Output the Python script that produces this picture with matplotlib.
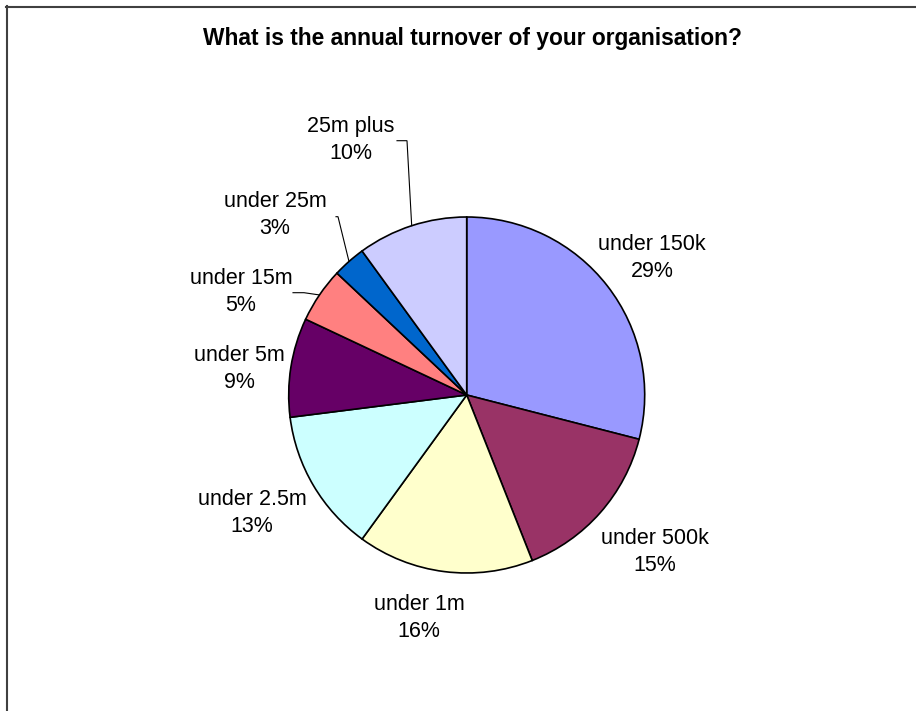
import numpy as np
import matplotlib
matplotlib.use("Agg")
import matplotlib.pyplot as plt
from matplotlib.lines import Line2D

# ---- data ----
categories = ["under 150k", "under 500k", "under 1m", "under 2.5m",
              "under 5m", "under 15m", "under 25m", "25m plus"]
values = [29, 15, 16, 13, 9, 5, 3, 10]
colors = ["#9999FF", "#993366", "#FFFFCC", "#CCFFFF",
          "#660066", "#FF8080", "#0066CC", "#CCCCFF"]
title = "What is the annual turnover of your organisation?"

# ---- layout (pixels) ----
W, H = 916, 711
cx, cy, R = 466.7, 395.0, 178.0
# label block centres in pixel coordinates
label_px = [(652, 258), (655, 552), (419, 618), (252, 513),
            (239, 369), (241, 292), (275, 215), (351, 140)]
# leader lines: (start_x, bend_x, y) in pixels, None = no leader
leaders = [None, None, None, None, None,
           (293, 304, 292.7), (336, 338, 216.7), (397, 407, 140.7)]

fig = plt.figure(figsize=(W / 100, H / 100), dpi=100)
fig.patch.set_facecolor("white")

ax = fig.add_axes([(cx - R) / W, (H - cy - R) / H, 2 * R / W, 2 * R / H])

wedges, _ = ax.pie(values, colors=colors, startangle=90, counterclock=False,
                   radius=1.0,
                   wedgeprops=dict(edgecolor="black", linewidth=1.2))
ax.set_xlim(-1, 1)
ax.set_ylim(-1, 1)
ax.set_aspect("equal")
ax.axis("off")

def px2d(px, py):
    return (px - cx) / R, (cy - py) / R

total = sum(values)
font = ["Liberation Sans", "Arial", "DejaVu Sans"]
cum = 0
for i, (cat, v) in enumerate(zip(categories, values)):
    mid = 90 - (cum + v / 2) / total * 360
    cum += v
    lx, ly = px2d(*label_px[i])
    ax.text(lx, ly, f"{cat}\n{round(v / total * 100)}%", ha="center", va="center",
            fontsize=15.5, family=font, linespacing=1.35, color="black")
    if leaders[i] is not None:
        sx, bx, yy = leaders[i]
        ex, ey = np.cos(np.radians(mid)), np.sin(np.radians(mid))
        x0, y0 = px2d(sx, yy)
        x1, y1 = px2d(bx, yy)
        ax.plot([x0, x1, ex], [y0, y1, ey], color="black", lw=0.8,
                clip_on=False, solid_joinstyle="miter")

fig.text(472 / W, 1 - 38 / H, title, ha="center", va="center",
         fontsize=16.4, fontweight="bold", family=font)

# chart-area frame (top and left visible)
fc = "#404040"
fig.add_artist(Line2D([6 / W, 1.0], [1 - 6.5 / H, 1 - 6.5 / H], color=fc, lw=1.5,
                      transform=fig.transFigure))
fig.add_artist(Line2D([6.5 / W, 6.5 / W], [0, 1 - 6 / H], color=fc, lw=1.5,
                      transform=fig.transFigure))

fig.savefig("out.png", dpi=100, facecolor="white")
